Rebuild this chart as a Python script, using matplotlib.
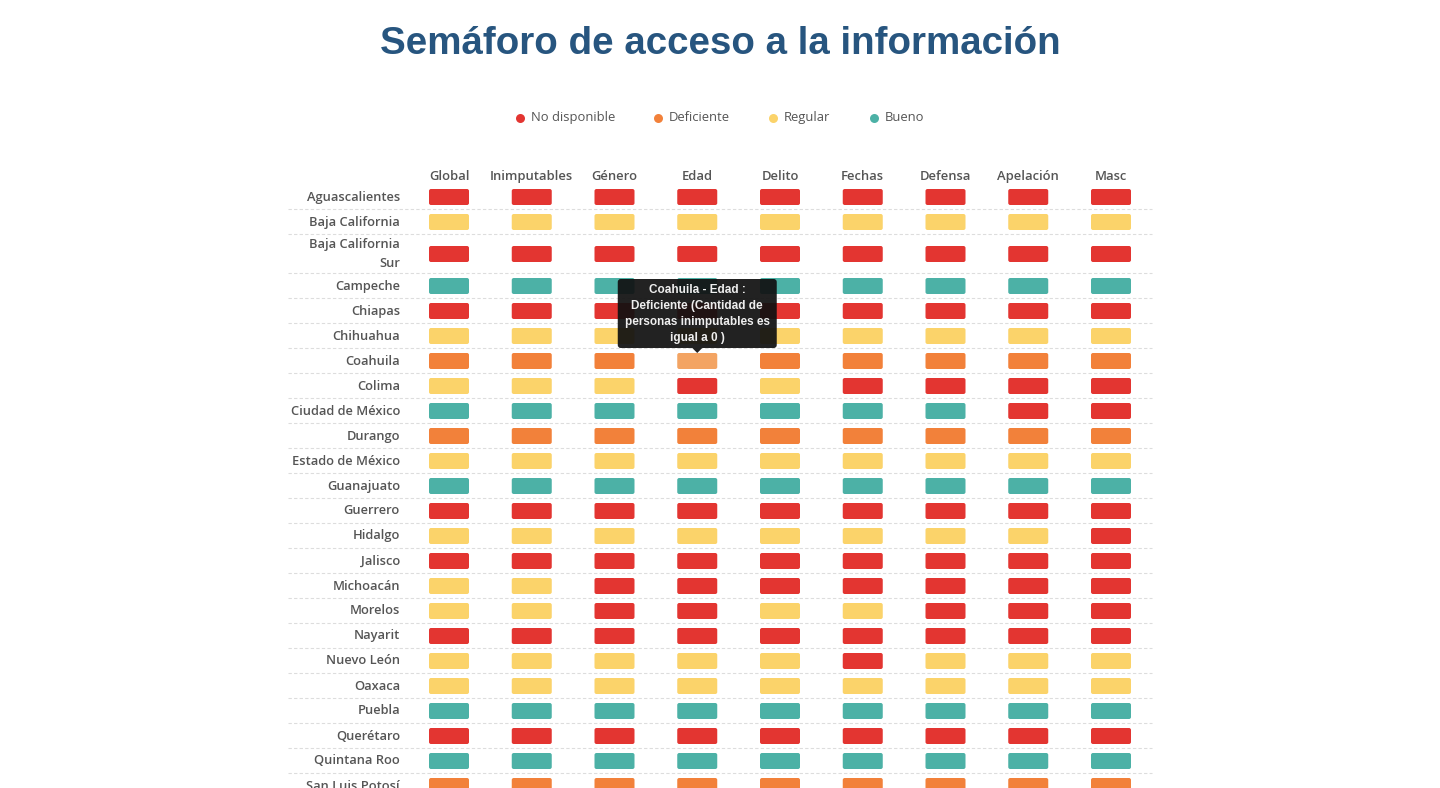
import matplotlib
matplotlib.use("Agg")
import matplotlib.pyplot as plt
from matplotlib.patches import FancyBboxPatch, Polygon

# ---------------- data ----------------
title = "Semáforo de acceso a la información"
columns = ["Global", "Inimputables", "Género", "Edad", "Delito", "Fechas",
           "Defensa", "Apelación", "Masc"]
states = ["Aguascalientes", "Baja California", "Baja California\nSur", "Campeche",
          "Chiapas", "Chihuahua", "Coahuila", "Colima", "Ciudad de México",
          "Durango", "Estado de México", "Guanajuato", "Guerrero", "Hidalgo",
          "Jalisco", "Michoacán", "Morelos", "Nayarit", "Nuevo León", "Oaxaca",
          "Puebla", "Querétaro", "Quintana Roo", "San Luis Potosí"]
# R = No disponible, O = Deficiente, Y = Regular, G = Bueno
status = [
    "RRRRRRRRR",  # Aguascalientes
    "YYYYYYYYY",  # Baja California
    "RRRRRRRRR",  # Baja California Sur
    "GGGGGGGGG",  # Campeche
    "RRRRRRRRR",  # Chiapas
    "YYYYYYYYY",  # Chihuahua
    "OOOOOOOOO",  # Coahuila
    "YYYRYRRRR",  # Colima
    "GGGGGGGRR",  # Ciudad de México
    "OOOOOOOOO",  # Durango
    "YYYYYYYYY",  # Estado de México
    "GGGGGGGGG",  # Guanajuato
    "RRRRRRRRR",  # Guerrero
    "YYYYYYYYR",  # Hidalgo
    "RRRRRRRRR",  # Jalisco
    "YYRRRRRRR",  # Michoacán
    "YYRRYYRRR",  # Morelos
    "RRRRRRRRR",  # Nayarit
    "YYYYYRYYY",  # Nuevo León
    "YYYYYYYYY",  # Oaxaca
    "GGGGGGGGG",  # Puebla
    "RRRRRRRRR",  # Querétaro
    "GGGGGGGGG",  # Quintana Roo
    "OOOOOOOOO",  # San Luis Potosí
]
legend_labels = ["No disponible", "Deficiente", "Regular", "Bueno"]
legend_keys = ["R", "O", "Y", "G"]
hover_state = "Coahuila"
hover_col = "Edad"
tooltip_lines = ["Coahuila - Edad :", "Deficiente (Cantidad de",
                 "personas inimputables es", "igual a 0 )"]

# ---------------- style ----------------
colors = {"R": "#e33531", "O": "#f2813a", "Y": "#fbd36a", "G": "#4cb1a6"}
hover_color = "#f3a463"
label_color = "#555555"

W, H = 1440, 788
fig = plt.figure(figsize=(W / 100, H / 100), dpi=100)
ax = fig.add_axes([0, 0, 1, 1])
ax.set_xlim(0, W)
ax.set_ylim(H, 0)
ax.axis("off")

# title
ax.text(720, 44, title, ha="center", va="center", fontsize=27.7,
        fontweight="bold", family="Liberation Sans", color="#27557f")

# legend
leg_x = [520, 658, 773, 874]
for x, lab, k in zip(leg_x, legend_labels, legend_keys):
    ax.scatter([x], [117.5], s=42, color=colors[k], zorder=3, linewidths=0)
    ax.text(x + 11, 117.5, lab, ha="left", va="center", fontsize=9.4,
            family="Open Sans", color=label_color)

# grid layout
col_x0, col_dx = 449, 82.75
cell_w, cell_h = 40, 16
row_top0 = 184
base_h, tall_h = 25, 39
label_x = 400
line_x0, line_x1 = 288, 1152

for j, c in enumerate(columns):
    ax.text(col_x0 + j * col_dx, 176.5, c, ha="center", va="center",
            fontsize=9.4, family="Open Sans", fontweight="semibold",
            color=label_color)

y = row_top0
hover_center = None
for i, (st, row) in enumerate(zip(states, status)):
    h = tall_h if "\n" in st else base_h
    yc = y + h / 2 + 0.5
    ax.text(label_x, yc, st, ha="right", va="center", fontsize=9.3,
            family="Open Sans", fontweight="semibold", color=label_color,
            linespacing=1.55)
    for j, k in enumerate(row):
        xc = col_x0 + j * col_dx
        col = colors[k]
        if st == hover_state and columns[j] == hover_col:
            col = hover_color
            hover_center = (xc, yc)
        ax.add_patch(FancyBboxPatch((xc - cell_w / 2, yc - cell_h / 2),
                                    cell_w, cell_h,
                                    boxstyle="round,pad=0,rounding_size=2",
                                    facecolor=col, edgecolor="none", zorder=2))
    y += h
    ax.plot([line_x0, line_x1], [y, y], color="#dddddd", lw=0.8,
            ls=(0, (3, 2)), zorder=1)

# tooltip
if hover_center is not None:
    hx, hy = hover_center
    bw, bh = 159, 69
    by = hy - cell_h / 2 - 5 - bh
    bx = hx - bw / 2
    ax.add_patch(FancyBboxPatch((bx, by), bw, bh,
                                boxstyle="round,pad=0,rounding_size=3",
                                facecolor="#111111", edgecolor="none",
                                alpha=0.93, zorder=5))
    ax.add_patch(Polygon([(hx - 5, by + bh), (hx + 5, by + bh),
                          (hx, by + bh + 5)], closed=True,
                         facecolor="#111111", edgecolor="none", alpha=0.93,
                         zorder=5))
    for n, line in enumerate(tooltip_lines):
        ax.text(hx, by + 11 + n * 16, line, ha="center", va="center",
                fontsize=8.5, fontweight="bold", family="Liberation Sans",
                color="#eeeeee", zorder=6)

fig.savefig("out.png", dpi=100)
